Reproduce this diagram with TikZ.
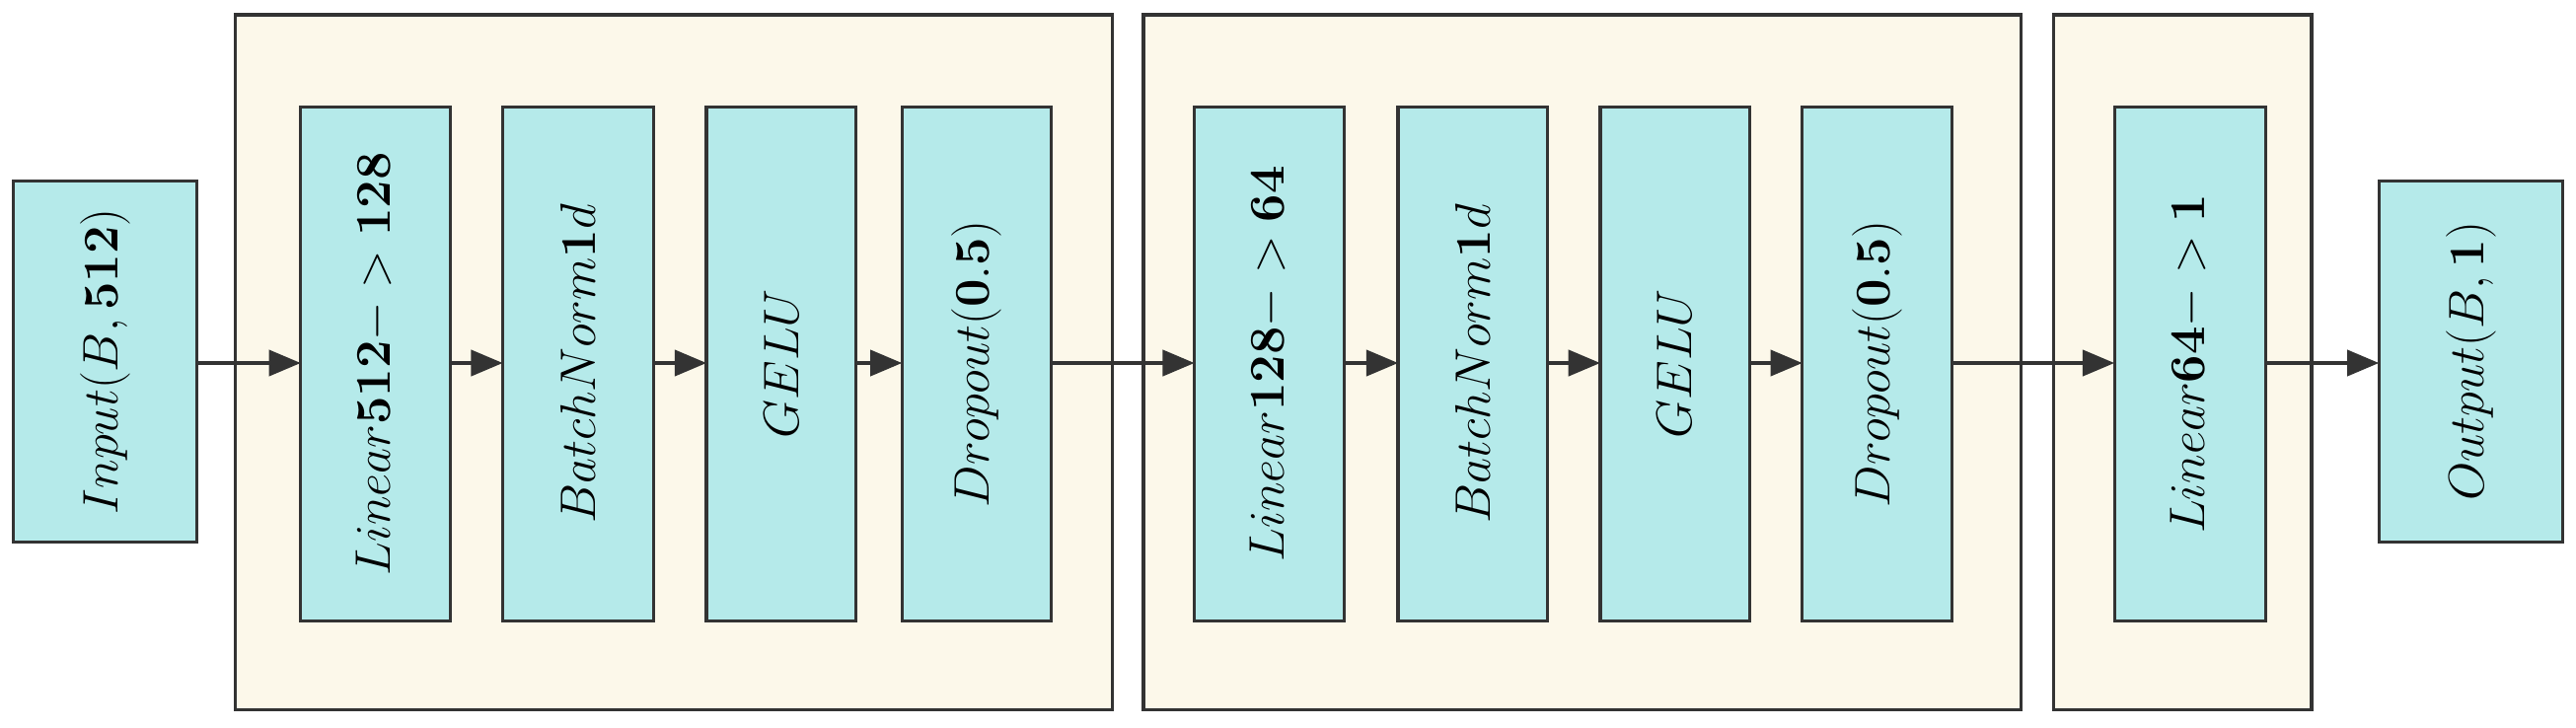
\documentclass[tikz,border=0pt]{standalone}
\usetikzlibrary{arrows.meta}
\definecolor{boxc}{HTML}{B5EAEA}
\definecolor{grpc}{HTML}{FCF8EA}
\definecolor{linec}{HTML}{333333}
\begin{document}
\begin{tikzpicture}[x=0.02cm,y=-0.02cm,
  grp/.style={draw=linec,fill=grpc,line width=1.1pt},
  blk/.style={draw=linec,fill=boxc,line width=1.1pt},
  lbl/.style={rotate=90,font=\fontsize{16}{19}\selectfont},
  arr/.style={draw=linec,line width=1.1pt,-{Triangle[length=11pt,width=9pt]}}]
\useasboundingbox (0,0) rectangle (1568,443);
\def\blk#1#2#3#4#5{\draw[blk] (#2,#3) rectangle (#4,#5);
  \node[lbl] (#1) at ({(#2+#4)/2},{(#3+#5)/2}) {};
  \coordinate (#1W) at (#2,221); \coordinate (#1E) at (#4,221);}
\draw[grp] (143,9) rectangle (677,432);
\draw[grp] (696,9) rectangle (1230,432);
\draw[grp] (1250,9) rectangle (1407,432);
\blk{in}{8}{110}{120}{330}
\blk{la}{183}{65}{274}{378}
\blk{ba}{306}{65}{398}{378}
\blk{ga}{430}{65}{521}{378}
\blk{da}{549}{65}{640}{378}
\blk{lb}{727}{65}{818}{378}
\blk{bb}{851}{65}{942}{378}
\blk{gb}{974}{65}{1065}{378}
\blk{db}{1097}{65}{1188}{378}
\blk{lc}{1287}{65}{1379}{378}
\blk{out}{1448}{110}{1560}{330}
\node[lbl] at (in) {$Input\mathbf{(}B,\mathbf{512)}$};
\node[lbl] at (la) {$Linear\mathbf{512}->\mathbf{128}$};
\node[lbl] at (ba) {$BatchNorm\mathbf{1}d$};
\node[lbl] at (ga) {$GELU$};
\node[lbl] at (da) {$Dropout\mathbf{(0.5)}$};
\node[lbl] at (lb) {$Linear\mathbf{128}->\mathbf{64}$};
\node[lbl] at (bb) {$BatchNorm\mathbf{1}d$};
\node[lbl] at (gb) {$GELU$};
\node[lbl] at (db) {$Dropout\mathbf{(0.5)}$};
\node[lbl] at (lc) {$Linear\mathbf{64}->\mathbf{1}$};
\node[lbl] at (out) {$Output\mathbf{(}B,\mathbf{1)}$};
\draw[arr] (inE) -- (laW);
\draw[arr] (laE) -- (baW);
\draw[arr] (baE) -- (gaW);
\draw[arr] (gaE) -- (daW);
\draw[arr] (daE) -- (lbW);
\draw[arr] (lbE) -- (bbW);
\draw[arr] (bbE) -- (gbW);
\draw[arr] (gbE) -- (dbW);
\draw[arr] (dbE) -- (lcW);
\draw[arr] (lcE) -- (outW);
\end{tikzpicture}
\end{document}
